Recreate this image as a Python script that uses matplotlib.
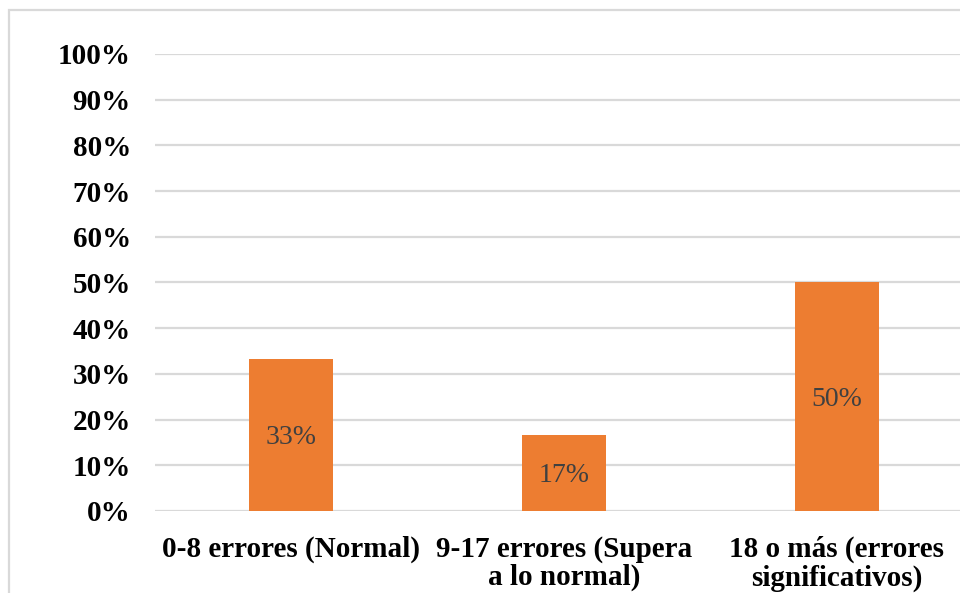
import matplotlib.pyplot as plt
from matplotlib.patches import Rectangle
from matplotlib.ticker import PercentFormatter

categories = ["0-8 errores (Normal)", "9-17 errores (Supera\na lo normal)",
              "18 o más (errores\nsignificativos)"]
values = [0.333, 0.167, 0.50]
labels = ["33%", "17%", "50%"]
yticks = [0, 0.1, 0.2, 0.3, 0.4, 0.5, 0.6, 0.7, 0.8, 0.9, 1.0]

plt.rcParams['font.family'] = ['Liberation Serif', 'DejaVu Serif']

fig = plt.figure(figsize=(9.6, 5.93), dpi=100)

# chart frame (clipped on right and bottom like the source screenshot)
fig.patches.append(Rectangle((9 / 960, -0.05), 1.0, 1 - 10 / 593 + 0.05,
                             transform=fig.transFigure, fill=False,
                             edgecolor='#d9d9d9', linewidth=1.6))

ax = fig.add_axes([0.161, 0.1383, 0.853, 0.7707])
x = range(len(categories))
bars = ax.bar(x, values, width=0.31, color='#ED7D31', zorder=3)
for b, lab in zip(bars, labels):
    ax.text(b.get_x() + b.get_width() / 2, b.get_height() / 2, lab,
            ha='center', va='center_baseline', fontsize=20, color='#404040', zorder=4)

ax.set_xlim(-0.5, 2.5)
ax.set_ylim(0, 1.0)
ax.set_yticks(yticks)
ax.yaxis.set_major_formatter(PercentFormatter(1.0, decimals=0))
ax.set_xticks(list(x))
ax.set_xticklabels(categories, fontsize=21, fontweight='bold', linespacing=1.05)
for t in ax.get_yticklabels():
    t.set_fontsize(21)
    t.set_fontweight('bold')
ax.tick_params(axis='y', length=0, pad=17)
ax.tick_params(axis='x', length=0, pad=18)
ax.grid(axis='y', color='#d9d9d9', linewidth=1.6, zorder=0)
for s in ax.spines.values():
    s.set_visible(False)

fig.savefig("out.png", dpi=100)
